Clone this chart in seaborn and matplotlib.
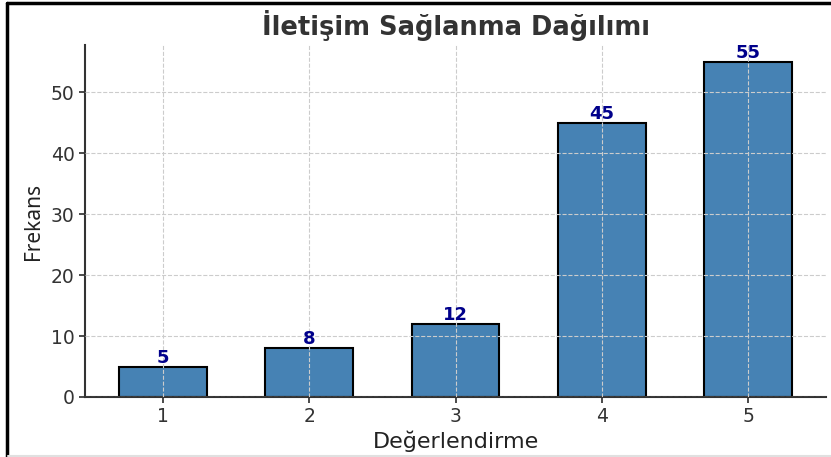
import matplotlib
matplotlib.use("Agg")
import matplotlib.pyplot as plt
import seaborn as sns
import pandas as pd
from matplotlib.lines import Line2D

# data
ratings = ["1", "2", "3", "4", "5"]
counts = [5, 8, 12, 45, 55]

title = "İletişim Sağlanma Dağılımı"
xlabel = "Değerlendirme"
ylabel = "Frekans"

df = pd.DataFrame({"rating": ratings, "count": counts})

sns.set_theme(style="white")
plt.rcParams["font.family"] = ["DejaVu Sans"]

fig = plt.figure(figsize=(8.31, 4.57), dpi=100)
ax = fig.add_axes([0.1023, 0.1313, 0.8917, 0.7702])

sns.barplot(data=df, x="rating", y="count", color="#4682B4", saturation=1,
            width=0.6, edgecolor="black", linewidth=1.5, ax=ax)

for i, v in enumerate(counts):
    ax.text(i, v, str(v), ha="center", va="bottom", fontsize=13,
            fontweight="bold", color="#00008B")

ax.set_xlim(-0.53, 4.53)
ax.set_ylim(0, 57.75)
ax.set_yticks([0, 10, 20, 30, 40, 50])
ax.grid(True, linestyle="--", color="#cccccc", linewidth=0.8)
ax.set_axisbelow(False)

ax.set_title(title, fontsize=18.5, fontweight="bold", color="#333333", pad=7)
ax.set_xlabel(xlabel, fontsize=16, color="#222222", labelpad=3)
ax.set_ylabel(ylabel, fontsize=15, color="#222222",
              family=["Noto Sans", "DejaVu Sans"], labelpad=5)
ax.tick_params(axis="both", labelsize=13.5, colors="#333333", length=4,
               bottom=True, left=True)
for s in ["top", "right"]:
    ax.spines[s].set_visible(False)
for s in ["left", "bottom"]:
    ax.spines[s].set_color("#333333")
    ax.spines[s].set_linewidth(1.5)

# screenshot border
fig.add_artist(Line2D([7 / 831, 7 / 831], [0, 1 - 3 / 457], color="black", lw=2.5))
fig.add_artist(Line2D([7 / 831, 1], [1 - 3 / 457, 1 - 3 / 457], color="black", lw=2.5))
fig.add_artist(Line2D([8 / 831, 1], [1 / 457, 1 / 457], color="#e0e0e0", lw=1.5))

fig.savefig("out.png", dpi=100)
